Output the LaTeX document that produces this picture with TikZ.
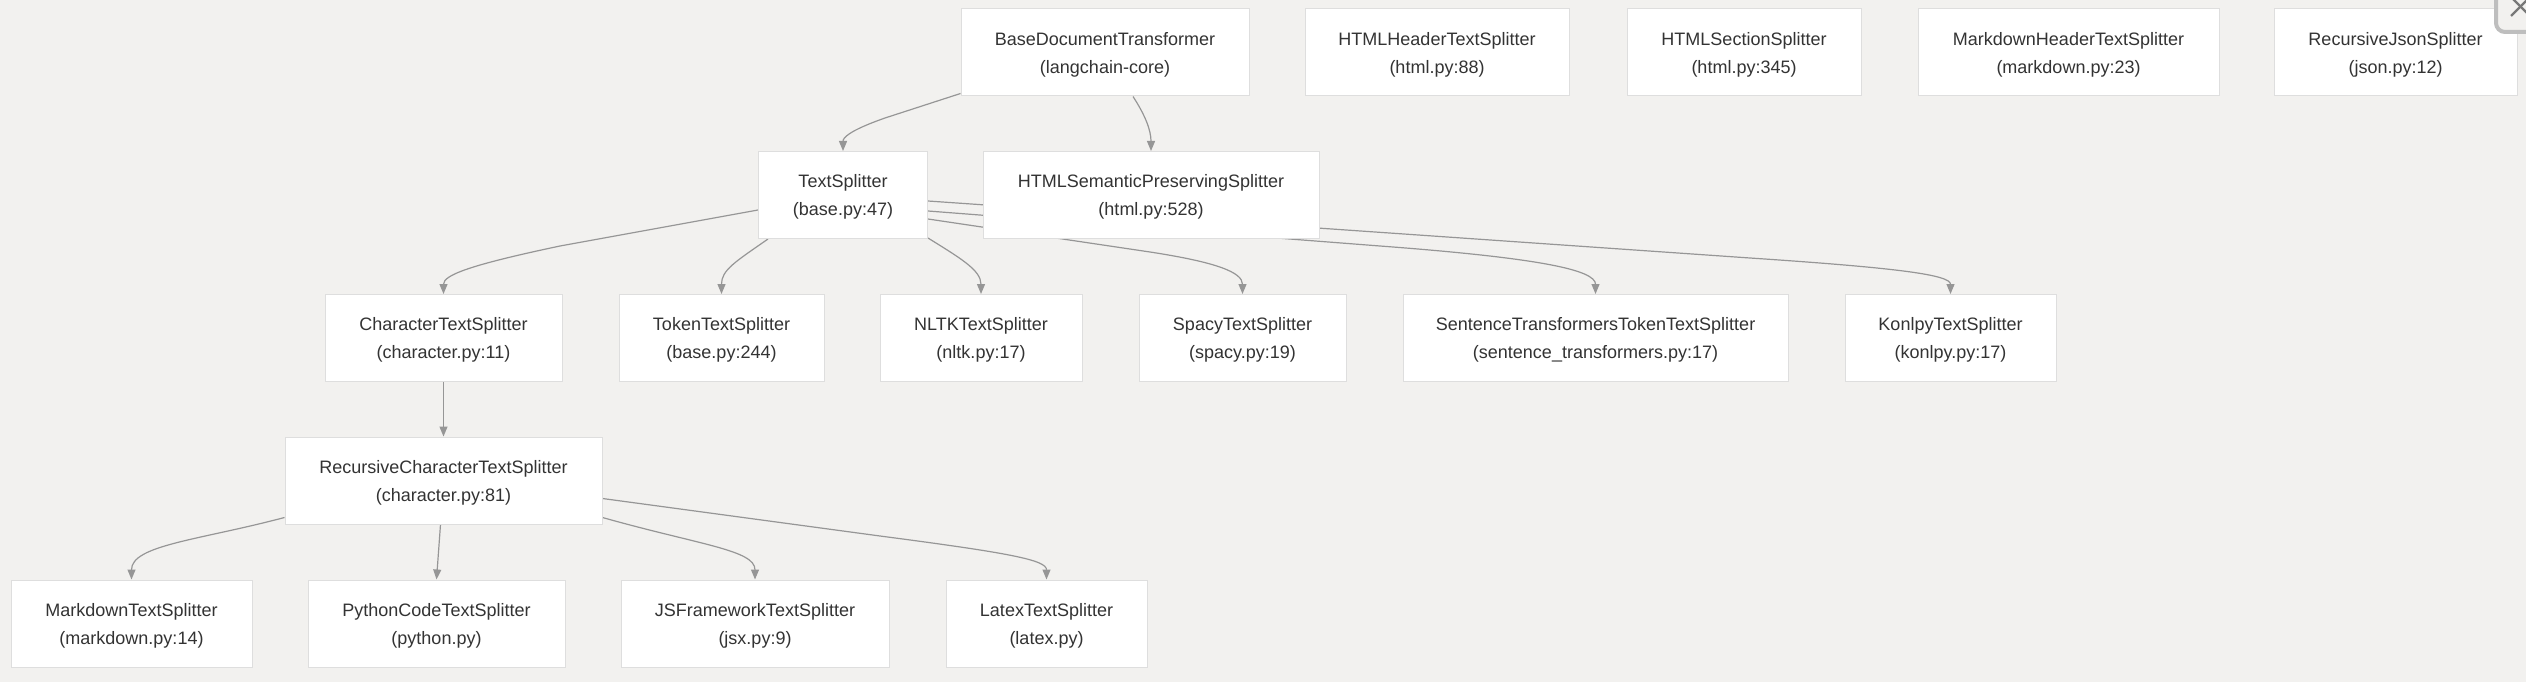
\documentclass[tikz,border=0pt]{standalone}
\usepackage{fontspec}
\setmainfont{Liberation Sans}
\usetikzlibrary{arrows.meta,calc}
\definecolor{bgc}{RGB}{242,241,239}
\definecolor{boxline}{RGB}{222,222,222}
\definecolor{edgec}{RGB}{150,150,150}
\definecolor{txt}{RGB}{51,51,51}
\definecolor{btn}{RGB}{190,190,190}
\pgfdeclarelayer{back}
\pgfdeclarelayer{edges}
\pgfsetlayers{back,edges,main}
\newcommand{\clsbox}[5]{%
  \node[box,minimum width=#4pt] (#1) at (#2,#3) {};
  \node[boxtext] (#1-t) at ($(#1.center)+(0,2)$) {#5};
}
\begin{document}
\begin{tikzpicture}[x=1pt,y=-1pt,
  box/.style={draw=boxline,fill=white,line width=1pt,inner sep=0pt,minimum height=87pt},
  boxtext/.style={align=center,inner sep=0pt,font=\fontsize{18}{28}\selectfont,text=txt},
  link/.style={draw=edgec,line width=1.2pt,-{Triangle[length=10pt,width=8pt]}}]
\begin{pgfonlayer}{back}
\fill[bgc] (0,0) rectangle (2526,682);
\end{pgfonlayer}
\useasboundingbox (0,0) rectangle (2526,682);

% row 1
\clsbox{base}{1105}{52.5}{288}{BaseDocumentTransformer\\(langchain-core)}
\clsbox{hhdr}{1437}{52.5}{264}{HTMLHeaderTextSplitter\\(html.py:88)}
\clsbox{hsec}{1744}{52.5}{234}{HTMLSectionSplitter\\(html.py:345)}
\clsbox{mdh}{2068.5}{52.5}{301}{MarkdownHeaderTextSplitter\\(markdown.py:23)}
\clsbox{rjson}{2395.5}{52.5}{243}{RecursiveJsonSplitter\\(json.py:12)}
% row 2
\clsbox{ts}{843}{195}{169}{TextSplitter\\(base.py:47)}
\clsbox{hsem}{1151}{195}{336}{HTMLSemanticPreservingSplitter\\(html.py:528)}
% row 3
\clsbox{char}{443.5}{338}{237}{CharacterTextSplitter\\(character.py:11)}
\clsbox{tok}{721.5}{338}{205}{TokenTextSplitter\\(base.py:244)}
\clsbox{nltk}{981}{338}{202}{NLTKTextSplitter\\(nltk.py:17)}
\clsbox{spacy}{1242.5}{338}{207}{SpacyTextSplitter\\(spacy.py:19)}
\clsbox{stt}{1595.5}{338}{385}{SentenceTransformersTokenTextSplitter\\(sentence\_transformers.py:17)}
\clsbox{kon}{1950.5}{338}{211}{KonlpyTextSplitter\\(konlpy.py:17)}
% row 4
\clsbox{rec}{443.5}{480.5}{317}{RecursiveCharacterTextSplitter\\(character.py:81)}
% row 5
\clsbox{md}{131.5}{623.5}{241}{MarkdownTextSplitter\\(markdown.py:14)}
\clsbox{py}{436.5}{623.5}{257}{PythonCodeTextSplitter\\(python.py)}
\clsbox{js}{755}{623.5}{268}{JSFrameworkTextSplitter\\(jsx.py:9)}
\clsbox{ltx}{1046.5}{623.5}{201}{LatexTextSplitter\\(latex.py)}

\begin{pgfonlayer}{edges}
\draw[link] ($(base.south west)+(0,-3)$) -- (885,118) .. controls (848,131) and (843,138) .. (ts.north);
\draw[link] ($(base.south)+(28,0)$) .. controls (1145,115) and (1151,130) .. (hsem.north);
\draw[link] ($(ts.west)+(0,15)$) -- (560,246) .. controls (470,265) and (443.5,275) .. (char.north);
\draw[link] ($(ts.south west)+(10,0)$) .. controls (735,262) and (721.5,270) .. (tok.north);
\draw[link] ($(ts.south east)+(0,-1)$) .. controls (960,258) and (981,270) .. (nltk.north);
\draw[link] ($(ts.east)+(0,24)$) -- (1150,252) .. controls (1215,262) and (1242.5,272) .. (spacy.north);
\draw[link] ($(ts.east)+(0,16)$) -- (1380,246) .. controls (1540,258) and (1595.5,270) .. (stt.north);
\draw[link] ($(ts.east)+(0,6)$) -- (1750,258) .. controls (1900,268) and (1950.5,275) .. (kon.north);
\draw[link] (char.south) -- (rec.north);
\draw[link] ($(rec.south west)+(0,-7)$) .. controls (200,540) and (131.5,545) .. (md.north);
\draw[link] ($(rec.south)+(-3,0)$) -- (py.north);
\draw[link] ($(rec.south east)+(0,-7)$) .. controls (700,545) and (755,550) .. (js.north);
\draw[link] ($(rec.east)+(0,18)$) -- (880,536) .. controls (1010,553) and (1046.5,560) .. (ltx.north);
\end{pgfonlayer}

% close button (partly outside the picture)
\begin{scope}
\clip (0,0) rectangle (2526,682);
\draw[btn,line width=4pt,rounded corners=9pt,fill=bgc] (2496,-30) rectangle (2570,32);
\draw[edgec!80!black,line width=2.2pt] (2511,16) -- (2530,-3);
\draw[edgec!80!black,line width=2.2pt] (2511,-3) -- (2530,16);
\end{scope}
\end{tikzpicture}
\end{document}
